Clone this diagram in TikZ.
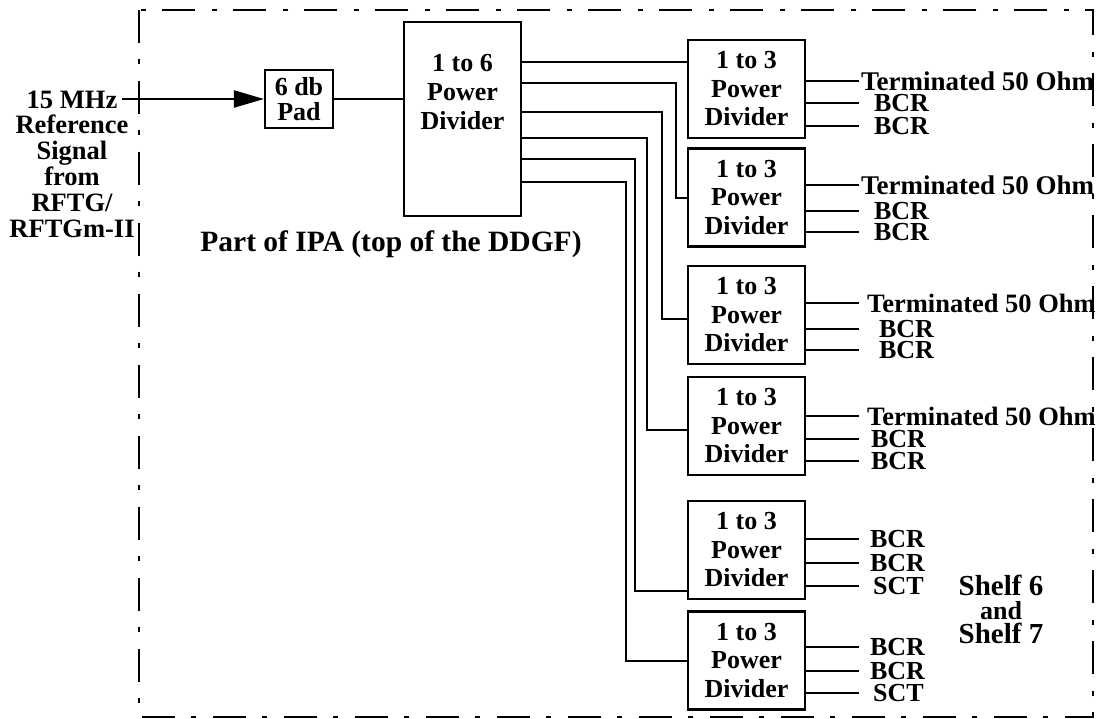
\documentclass[tikz,border=0pt]{standalone}
\usepackage{fontspec}
\setmainfont{Liberation Serif}
\usetikzlibrary{arrows.meta}
\newcommand\outlab[6][26]{%
  \node[lbl, font=\fontsize{#1}{28}\selectfont\bfseries] (#3) at (#5,#4) {#6};
  \draw (#2.east |- #3.west) -- ([xshift={859pt-#5pt}]#3.west);}
\begin{document}
\begin{tikzpicture}[x=1pt,y=-1pt, line width=2.1pt,
  bx/.style={draw, rectangle, inner sep=0, align=center, minimum width=117pt, minimum height=98pt,
    font=\fontsize{26}{28.5}\selectfont\bfseries},
  lbl/.style={anchor=west, inner sep=0},
  txt/.style={align=center, inner sep=0, font=\fontsize{26}{25.8}\selectfont\bfseries}]
\useasboundingbox (0,0) rectangle (1098,719);
\draw[dash pattern=on 33pt off 16pt on 5pt off 17pt] (139,10) rectangle (1093,717);

\node[txt, font=\fontsize{26.5}{25.8}\selectfont\bfseries] (src) at (72,164) {15 MHz\\Reference\\Signal\\from\\RFTG/\\RFTGm-II};
\coordinate (in) at (122,99);
\node[draw, rectangle, inner sep=0, align=center, minimum width=68pt, minimum height=58pt,
  font=\fontsize{26}{25}\selectfont\bfseries] (pad) at (299,99) {6 db\\Pad};
\draw[-{Triangle[length=30pt,width=17pt]}] (in) -- (pad.west);

\node[draw, rectangle, inner sep=0, minimum width=117pt, minimum height=194pt] (div6) at (462.5,119) {};
\node[txt, font=\fontsize{26}{29}\selectfont\bfseries] (div6t) at (462.5,92) {1 to 6\\Power\\Divider};
\draw (pad.east) -- (pad.east -| div6.west);
\node[txt, font=\fontsize{29.5}{30}\selectfont\bfseries] (ipa) at (391,244) {Part of IPA (top of the DDGF)};

\node[bx] (b1) at (746.5,89) {1 to 3\\Power\\Divider};
\node[bx] (b2) at (746.5,197.5) {1 to 3\\Power\\Divider};
\node[bx] (b3) at (746.5,315) {1 to 3\\Power\\Divider};
\node[bx] (b4) at (746.5,426) {1 to 3\\Power\\Divider};
\node[bx] (b5) at (746.5,550) {1 to 3\\Power\\Divider};
\node[bx] (b6) at (746.5,660.5) {1 to 3\\Power\\Divider};

\draw (div6.east |- 0,62) -- (b1.west |- 0,62);
\draw (div6.east |- 0,83) -| (676,198) -- (b2.west |- 0,198);
\draw (div6.east |- 0,112) -| (662,319) -- (b3.west |- 0,319);
\draw (div6.east |- 0,138) -| (647,430) -- (b4.west |- 0,430);
\draw (div6.east |- 0,159) -| (635,591) -- (b5.west |- 0,591);
\draw (div6.east |- 0,182) -| (626,661) -- (b6.west |- 0,661);

\outlab[27]{b1}{o11}{81}{860}{Terminated 50 Ohm}
\outlab{b1}{o12}{103}{873}{BCR}
\outlab{b1}{o13}{126}{873}{BCR}
\outlab[27]{b2}{o21}{185}{860}{Terminated 50 Ohm}
\outlab{b2}{o22}{211}{873}{BCR}
\outlab{b2}{o23}{232}{873}{BCR}
\outlab[26.5]{b3}{o31}{303}{866}{Terminated 50 Ohm}
\outlab{b3}{o32}{329}{878}{BCR}
\outlab{b3}{o33}{350}{878}{BCR}
\outlab[26.5]{b4}{o41}{416}{866}{Terminated 50 Ohm}
\outlab{b4}{o42}{439}{870}{BCR}
\outlab{b4}{o43}{461}{870}{BCR}
\outlab{b5}{o51}{539}{869}{BCR}
\outlab{b5}{o52}{563}{869}{BCR}
\outlab{b5}{o53}{586}{872}{SCT}
\outlab{b6}{o61}{647}{869}{BCR}
\outlab{b6}{o62}{671}{869}{BCR}
\outlab{b6}{o63}{693}{872}{SCT}

\node[txt, font=\fontsize{29}{24}\selectfont\bfseries] (shelf) at (1001,609)
  {Shelf 6\\{\fontsize{26}{24}\selectfont and}\\Shelf 7};
\end{tikzpicture}
\end{document}
